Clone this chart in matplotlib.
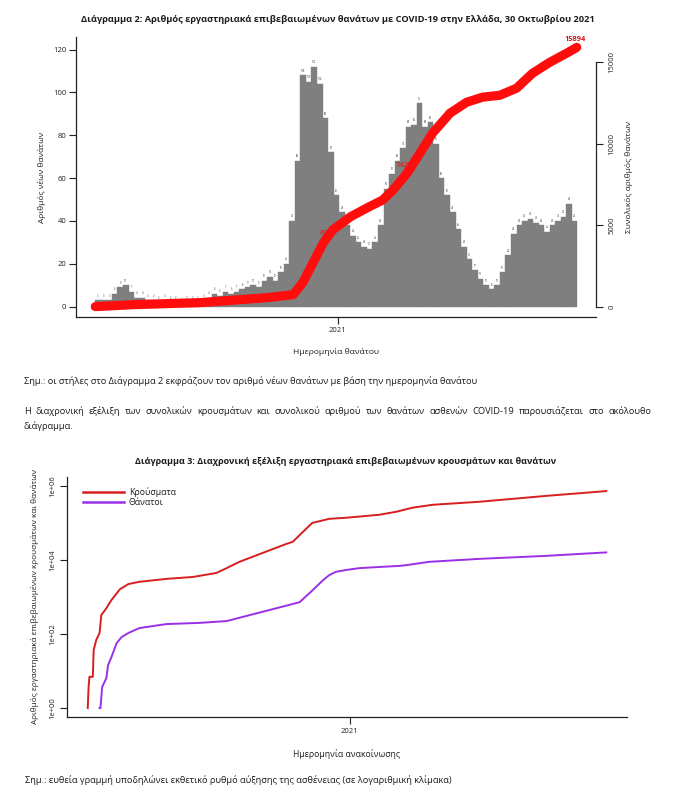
import numpy as np
import pandas as pd
import matplotlib
matplotlib.use('Agg')
import matplotlib.pyplot as plt
import matplotlib.dates as mdates
from matplotlib.ticker import NullLocator

plt.rcParams['font.family'] = ['Open Sans', 'DejaVu Sans']

# ---------------- Data: Diagram 2 (deaths by date of death) ----------------
bars_start = '2020-03-01'          # first weekly bar
weekly_deaths = [3, 3, 3, 6, 9, 10, 7,
                 4, 4, 3, 3, 2, 3, 2, 2, 1, 2, 2, 2, 3,
                 4, 6, 5, 7, 6,
                 7, 8, 9, 10, 9, 12,
                 14, 12, 16, 20,
                 40, 68, 108, 105, 112, 104, 88, 72, 52, 44, 38,
                 33, 30, 28, 27, 30, 38, 55, 62, 68, 74,
                 84, 85, 95, 84, 86, 76, 60, 52, 44, 36,
                 28, 22, 17, 13, 10, 8, 10, 16, 24, 34,
                 38, 40, 41, 39, 38, 35, 38, 40, 42, 48,
                 40]
bars_end = '2021-10-30'

cum_days = [0, 48, 132, 217, 250, 262, 275, 288, 300, 322, 343, 363, 376,
            394, 410, 426, 448, 469, 489, 511, 532, 552, 574, 595, 608]
cum_deaths = [0, 120, 245, 550, 735, 1470, 2690, 3910, 4710, 5500, 6050, 6540,
              7150, 8190, 9410, 10640, 11860, 12530, 12840, 12960, 13390, 14300,
              14980, 15530, 15894]
cum_labels = ['3976', '7429', '15894']
cum_label_days = [293, 390, 606]
cum_label_vals = [4500, 8650, 16400]

# ---------------- Data: Diagram 3 (log scale, by announcement date) -------
cases_days = [-309, -308, -307, -303, -302, -299, -295, -293, -287, -281, -271,
              -261, -248, -216, -185, -157, -145, -130, -106, -75, -67, -55,
              -44, -24, -4, 35, 55, 74, 98, 153, 232, 303]
cases_vals = [1, 3.7, 7, 7, 37, 69, 107, 324, 500, 830, 1620, 2240, 2570, 3090,
              3470, 4470, 6030, 8900, 14450, 26900, 30900, 57500, 100000,
              129000, 138000, 166000, 200000, 257000, 309000, 372000, 537000,
              724000]
deaths_days = [-295, -294, -292, -287, -285, -281, -275, -269, -261, -248, -216,
               -177, -145, -118, -86, -59, -47, -41, -31, -24, -16, -4, 12, 35,
               59, 67, 94, 153, 232, 303]
deaths_vals = [1, 1, 3.7, 6.5, 14.5, 24, 56, 83, 107, 145, 186, 200, 224, 324,
               500, 724, 1290, 1740, 2880, 3890, 4790, 5370, 6030, 6460, 6920,
               7240, 8910, 10700, 12900, 16000]
legend_labels = ['Κρούσματα', 'Θάνατοι']

# ---------------- Figure ----------------
W, H = 696, 807
fig = plt.figure(figsize=(W / 100, H / 100), dpi=100)
TXT = '#1c1c1c'
BODY = 6.7


def fx(x):
    return x / W


def fy(y):
    return 1 - y / H


def rect(l, t, r, b):
    return [fx(l), fy(b), (r - l) / W, (b - t) / H]


# ---------------- Diagram 2 ----------------
ax1 = fig.add_axes(rect(76, 37, 596, 317))
ax2 = ax1.twinx()

t0 = pd.Timestamp(bars_start)
t_end = pd.Timestamp(bars_end)
starts = t0 + pd.to_timedelta(np.arange(len(weekly_deaths)) * 7, unit='D')
x_starts = mdates.date2num(starts)
x_end = mdates.date2num(t_end)
widths = np.minimum(7, x_end - x_starts)
ax1.bar(x_starts, weekly_deaths, width=widths, align='edge', color='#7f7f7f',
        edgecolor='#7f7f7f', linewidth=0.3, zorder=2)
for xs, wd, v in zip(x_starts, widths, weekly_deaths):
    ax1.text(xs + wd / 2, v + 1.2, str(v), fontsize=1.8, color='#333333',
             ha='center', va='bottom', zorder=3)

x0n = mdates.date2num(t0)
span = x_end - x0n
ax1.set_xlim(x0n - 0.04 * span, x_end + 0.04 * span)
ymax_left = 121
ax1.set_ylim(-0.04 * ymax_left, ymax_left * 1.04)
ax1.set_yticks([0, 20, 40, 60, 80, 100, 120])
jan21 = mdates.date2num(pd.Timestamp('2021-01-01'))
ax1.set_xticks([jan21])
ax1.set_xticklabels(['2021'])
for s in ['top', 'right']:
    ax1.spines[s].set_visible(False)
for s in ['left', 'bottom']:
    ax1.spines[s].set_linewidth(0.9)
    ax1.spines[s].set_color('#222222')
ax1.tick_params(direction='out', length=5, width=0.8, colors='#222222',
                labelsize=5.5, pad=2)
ax1.set_ylabel('Αριθμός νέων θανάτων', fontsize=6, color=TXT, labelpad=5)
ax1.set_xlabel('Ημερομηνία θανάτου', fontsize=6.1, color=TXT, labelpad=10)

cum_x = mdates.date2num(t0 + pd.to_timedelta(cum_days, unit='D'))
ax2.plot(cum_x, cum_deaths, color='#ff0d0d', lw=6.6, solid_capstyle='round',
         solid_joinstyle='round', zorder=3)
lab_x = mdates.date2num(t0 + pd.to_timedelta(cum_label_days, unit='D'))
for i, (lx, lv, lt) in enumerate(zip(lab_x, cum_label_vals, cum_labels)):
    ax2.text(lx, lv, lt, fontsize=5.3, color='#e01010',
             fontweight='bold' if i == 2 else 'normal',
             ha='center', va='center', zorder=2)
ymax_right = cum_deaths[-1]
ax2.set_ylim(-0.04 * ymax_right, ymax_right * 1.04)
ax2.set_yticks([0, 5000, 10000, 15000])
ax2.set_yticklabels(['0', '5000', '10000', '15000'], rotation=90, va='center')
for s in ['top', 'left', 'bottom']:
    ax2.spines[s].set_visible(False)
ax2.spines['right'].set_bounds(0, 15000)
ax2.spines['right'].set_linewidth(0.9)
ax2.spines['right'].set_color('#222222')
ax2.tick_params(direction='out', length=5, width=0.8, colors='#222222',
                labelsize=5.5, pad=4)
ax2.set_ylabel('Συνολικός αριθμός θανάτων', fontsize=6, color=TXT,
               rotation=90, labelpad=7)

fig.text(fx(338), fy(19),
         'Διάγραμμα 2: Αριθμός εργαστηριακά επιβεβαιωμένων θανάτων με COVID-19 στην Ελλάδα, 30 Οκτωβρίου 2021',
         fontsize=6.7, fontweight='bold', color=TXT, ha='center', va='center')

# ---------------- Text between charts ----------------
fig.text(fx(24), fy(381),
         'Σημ.: οι στήλες στο Διάγραμμα 2 εκφράζουν τον αριθμό νέων θανάτων με βάση την ημερομηνία θανάτου',
         fontsize=BODY, color=TXT, ha='left', va='center')

para1 = ('Η διαχρονική εξέλιξη των συνολικών κρουσμάτων και συνολικού αριθμού '
         'των θανάτων ασθενών COVID-19 παρουσιάζεται στο ακόλουθο').split()
renderer = fig.canvas.get_renderer()
word_texts = [fig.text(0, 0, w, fontsize=BODY, color=TXT, va='center', ha='left')
              for w in para1]
word_w = [t.get_window_extent(renderer).width for t in word_texts]
gap = (651 - 24 - sum(word_w)) / (len(para1) - 1)
xc = 24
for t, w in zip(word_texts, word_w):
    t.set_position((fx(xc), fy(411)))
    xc += w + gap
fig.text(fx(24), fy(426), 'διάγραμμα.', fontsize=BODY, color=TXT,
         ha='left', va='center')

# ---------------- Diagram 3 ----------------
fig.text(fx(346), fy(461),
         'Διάγραμμα 3: Διαχρονική εξέλιξη εργαστηριακά επιβεβαιωμένων κρουσμάτων και θανάτων',
         fontsize=6.5, fontweight='bold', color=TXT, ha='center', va='center')

ax3 = fig.add_axes(rect(67, 477, 627, 717))
ref = pd.Timestamp('2021-01-01')
cx = mdates.date2num(ref + pd.to_timedelta(cases_days, unit='D'))
dx = mdates.date2num(ref + pd.to_timedelta(deaths_days, unit='D'))
ax3.plot(cx, cases_vals, color='#d81e1e', lw=1.4, label=legend_labels[0])
ax3.plot(dx, deaths_vals, color='#9a30e6', lw=1.4, label=legend_labels[1])
ax3.set_yscale('log')
ax3.set_ylim(10 ** -0.24, 10 ** 6.24)
ax3.set_yticks([1, 1e2, 1e4, 1e6])
ax3.yaxis.set_minor_locator(NullLocator())
ax3.set_yticklabels(['1e+00', '1e+02', '1e+04', '1e+06'], rotation=90,
                    va='center')
xmin3, xmax3 = cx[0], cx[-1]
sp3 = xmax3 - xmin3
ax3.set_xlim(xmin3 - 0.04 * sp3, xmax3 + 0.04 * sp3)
ax3.set_xticks([mdates.date2num(ref)])
ax3.set_xticklabels(['2021'])
for s in ['top', 'right']:
    ax3.spines[s].set_visible(False)
for s in ['left', 'bottom']:
    ax3.spines[s].set_linewidth(0.9)
    ax3.spines[s].set_color('#222222')
ax3.tick_params(direction='out', length=5, width=0.8, colors='#222222',
                labelsize=5.5, pad=3)
ax3.set_ylabel('Αριθμός εργαστηριακά επιβεβαιωμένων κρουσμάτων και θανάτων',
               fontsize=5.85, color=TXT, labelpad=7)
ax3.set_xlabel('Ημερομηνία ανακοίνωσης', fontsize=6.2, color=TXT, labelpad=10)
leg = ax3.legend(loc='upper left', bbox_to_anchor=(0.02, 0.98), frameon=False,
                 fontsize=6.3, handlelength=4.6, handletextpad=0.6,
                 labelspacing=0.15, borderaxespad=0.2)
for lh in leg.get_lines():
    lh.set_linewidth(1.8)
for tx in leg.get_texts():
    tx.set_color(TXT)

fig.text(fx(25), fy(780),
         'Σημ.: ευθεία γραμμή υποδηλώνει εκθετικό ρυθμό αύξησης της ασθένειας (σε λογαριθμική κλίμακα)',
         fontsize=BODY, color=TXT, ha='left', va='center')

fig.savefig('out.png', dpi=100, facecolor='white')
